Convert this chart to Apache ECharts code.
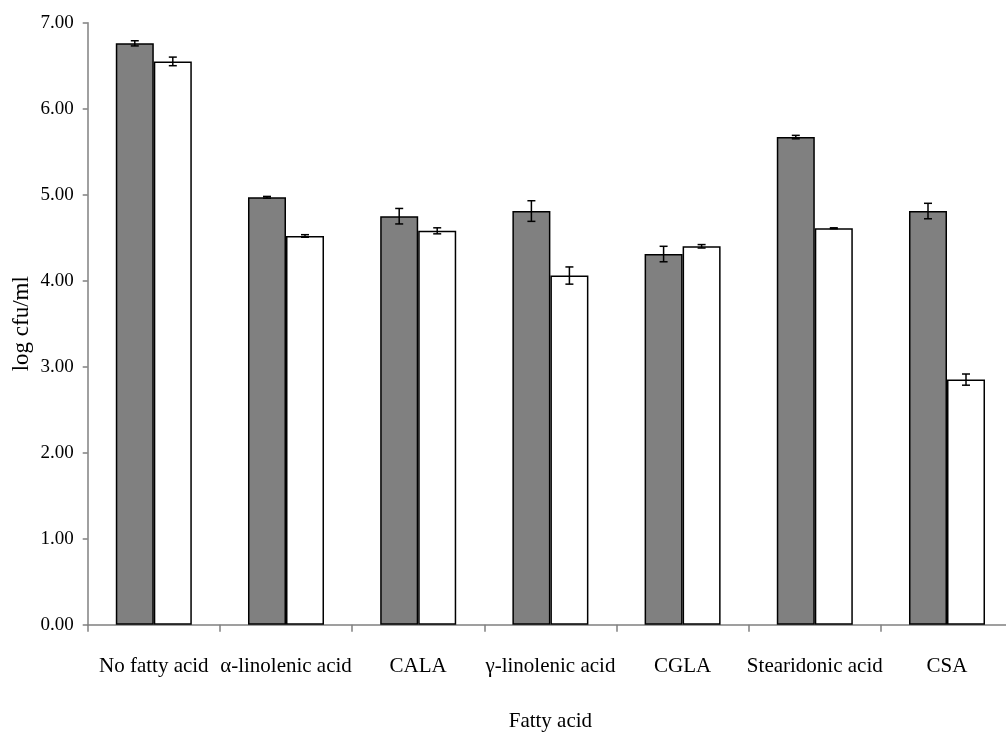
<!DOCTYPE html>
<html>
<head>
<meta charset="utf-8">
<script src="https://cdn.jsdelivr.net/npm/echarts@6/dist/echarts.min.js"></script>
<style>
  html, body { margin: 0; padding: 0; background: #fff; }
  #chart { width: 1006px; height: 738px; }
</style>
</head>
<body>
<div id="chart"></div>
<script>
// Fatty acid treatments
const categories = ['No fatty acid', 'α-linolenic acid', 'CALA', 'γ-linolenic acid', 'CGLA', 'Stearidonic acid', 'CSA'];
// log cfu/ml, first (grey) and second (white) bar of each group
const greyValues = [6.76, 4.97, 4.75, 4.81, 4.31, 5.67, 4.81];
const whiteValues = [6.55, 4.52, 4.58, 4.06, 4.40, 4.61, 2.85];
// standard errors
const greyErrors = [0.03, 0.01, 0.09, 0.12, 0.09, 0.02, 0.09];
const whiteErrors = [0.05, 0.015, 0.035, 0.10, 0.02, 0.005, 0.065];
const yTicks = [0, 1, 2, 3, 4, 5, 6, 7];

const BAR_FRACTION = 0.2875;
const FONT = '"Liberation Serif", "Times New Roman", serif';

function errorSeries(values, errors, side) {
  return {
    type: 'custom',
    z: 5,
    data: values.map((v, i) => [i, v, errors[i]]),
    renderItem: function (params, api) {
      const band = api.size([1, 0])[0];
      const off = side * band * BAR_FRACTION / 2;
      const x = api.coord([api.value(0), 0])[0] + off;
      const yHi = api.coord([0, api.value(1) + api.value(2)])[1];
      const yLo = api.coord([0, api.value(1) - api.value(2)])[1];
      const cap = 4;
      const style = { stroke: '#000', lineWidth: 1.5, fill: null };
      return {
        type: 'group',
        children: [
          { type: 'line', shape: { x1: x, y1: yHi, x2: x, y2: yLo }, style: style },
          { type: 'line', shape: { x1: x - cap, y1: yHi, x2: x + cap, y2: yHi }, style: style },
          { type: 'line', shape: { x1: x - cap, y1: yLo, x2: x + cap, y2: yLo }, style: style }
        ]
      };
    }
  };
}

const chart = echarts.init(document.getElementById('chart'), null, { renderer: 'canvas' });
chart.setOption({
  animation: false,
  backgroundColor: '#fff',
  grid: { left: 87.7, top: 22.7, width: 925.4, height: 602, outerBoundsMode: 'none', containLabel: false },
  xAxis: {
    type: 'category',
    data: categories,
    boundaryGap: true,
    axisLine: { lineStyle: { color: '#808080', width: 1.5 } },
    axisTick: { show: true, length: 7, lineStyle: { color: '#808080', width: 1.5 } },
    axisLabel: { color: '#000', fontFamily: FONT, fontSize: 21, margin: 31, interval: 0 },
    name: 'Fatty acid',
    nameLocation: 'middle',
    nameGap: 86,
    nameMoveOverlap: false,
    nameTextStyle: { color: '#000', fontFamily: FONT, fontSize: 21 }
  },
  yAxis: {
    type: 'value',
    min: yTicks[0],
    max: yTicks[yTicks.length - 1],
    interval: 1,
    axisLine: { show: true, lineStyle: { color: '#808080', width: 1.5 } },
    axisTick: { show: true, length: 5, lineStyle: { color: '#808080', width: 1.5 } },
    splitLine: { show: false },
    axisLabel: {
      color: '#000', fontFamily: FONT, fontSize: 19, margin: 14,
      formatter: v => v.toFixed(2)
    },
    name: 'log cfu/ml',
    nameLocation: 'middle',
    nameGap: 54,
    nameMoveOverlap: false,
    nameTextStyle: { color: '#000', fontFamily: FONT, fontSize: 23 }
  },
  series: [
    {
      type: 'bar',
      data: greyValues,
      barWidth: (BAR_FRACTION * 100) + '%',
      barGap: '0%',
      itemStyle: { color: '#808080', borderColor: '#000', borderWidth: 1.5 }
    },
    {
      type: 'bar',
      data: whiteValues,
      barWidth: (BAR_FRACTION * 100) + '%',
      barGap: '0%',
      itemStyle: { color: '#ffffff', borderColor: '#000', borderWidth: 1.5 }
    },
    errorSeries(greyValues, greyErrors, -1),
    errorSeries(whiteValues, whiteErrors, 1)
  ]
});
</script>
</body>
</html>
